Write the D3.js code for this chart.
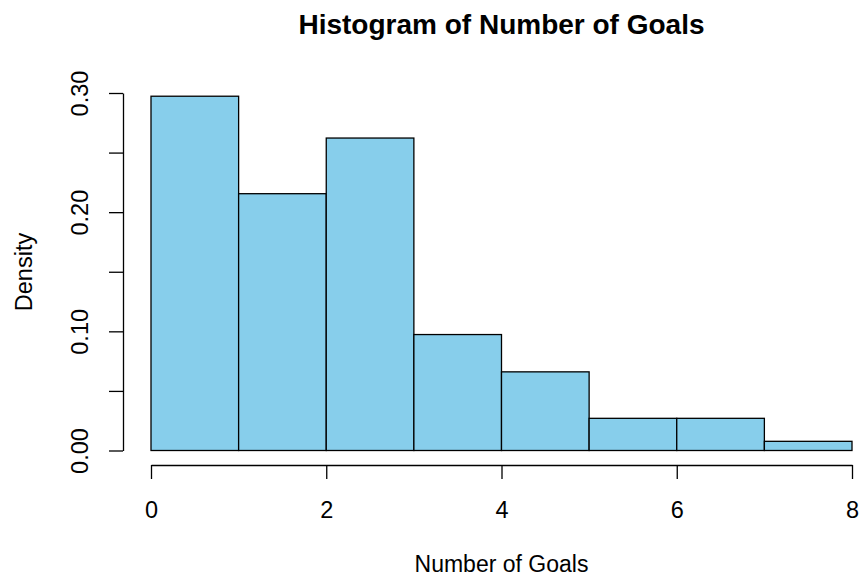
<!DOCTYPE html>
<html>
<head>
<meta charset="utf-8">
<script src="https://cdn.jsdelivr.net/npm/d3@7"></script>
<style>
  html, body { margin: 0; padding: 0; background: #fff; }
  svg { display: block; font-family: "Liberation Sans", Arial, Helvetica, sans-serif; }
</style>
</head>
<body>
<svg id="chart" width="859" height="577"></svg>
<script>
// Histogram bins (goals per match) and their densities
const binEdges = [0, 1, 2, 3, 4, 5, 6, 7, 8];
const densities = [0.2973, 0.2155, 0.2622, 0.0973, 0.0660, 0.0270, 0.0270, 0.0077];
const xTicks = [0, 2, 4, 6, 8];
const yTicks = [0, 0.05, 0.10, 0.15, 0.20, 0.25, 0.30];
const yLabelled = [0, 0.10, 0.20, 0.30];

const titleText = "Histogram of Number of Goals";
const xTitle = "Number of Goals";
const yTitle = "Density";

const svg = d3.select("#chart");

const x = d3.scaleLinear().domain([0, 8]).range([151, 852]);
const y = d3.scaleLinear().domain([0, 0.30]).range([450.5, 93]);

const bins = densities.map((d, i) => ({ x0: binEdges[i], x1: binEdges[i + 1], d }));

// bars
svg.append("g")
  .selectAll("rect")
  .data(bins)
  .join("rect")
  .attr("x", b => x(b.x0))
  .attr("width", b => x(b.x1) - x(b.x0))
  .attr("y", b => y(b.d))
  .attr("height", b => y(0) - y(b.d))
  .attr("fill", "#87CEEB")
  .attr("stroke", "#000")
  .attr("stroke-width", 1.3);

// x axis
const gx = svg.append("g")
  .attr("transform", "translate(0,465)")
  .call(d3.axisBottom(x).tickValues(xTicks).tickSize(14).tickSizeOuter(0).tickFormat(d3.format("d")));
gx.selectAll("text")
  .attr("y", 53).attr("dy", 0)
  .attr("font-size", 23.5).attr("fill", "#000")
  .attr("font-family", "Liberation Sans, Arial, sans-serif");

// y axis
const gy = svg.append("g")
  .attr("transform", "translate(123,0)")
  .call(d3.axisLeft(y).tickValues(yTicks).tickSize(14).tickSizeOuter(0)
    .tickFormat(v => yLabelled.some(t => Math.abs(t - v) < 1e-9) ? d3.format(".2f")(v) : ""));
gy.selectAll("text")
  .attr("transform", "rotate(-90)")
  .attr("x", 0).attr("y", -35).attr("dy", 0)
  .attr("text-anchor", "middle")
  .attr("font-size", 23.5).attr("fill", "#000")
  .attr("font-family", "Liberation Sans, Arial, sans-serif");

svg.selectAll(".domain, .tick line").attr("stroke", "#000").attr("stroke-width", 1.3);

// titles
svg.append("text")
  .attr("x", 501.5).attr("y", 33.5)
  .attr("text-anchor", "middle")
  .attr("font-size", 28).attr("font-weight", "bold")
  .text(titleText);

svg.append("text")
  .attr("x", 501.5).attr("y", 572)
  .attr("text-anchor", "middle")
  .attr("font-size", 23)
  .text(xTitle);

svg.append("text")
  .attr("transform", "translate(32,272) rotate(-90)")
  .attr("text-anchor", "middle")
  .attr("font-size", 23.5)
  .text(yTitle);
</script>
</body>
</html>
